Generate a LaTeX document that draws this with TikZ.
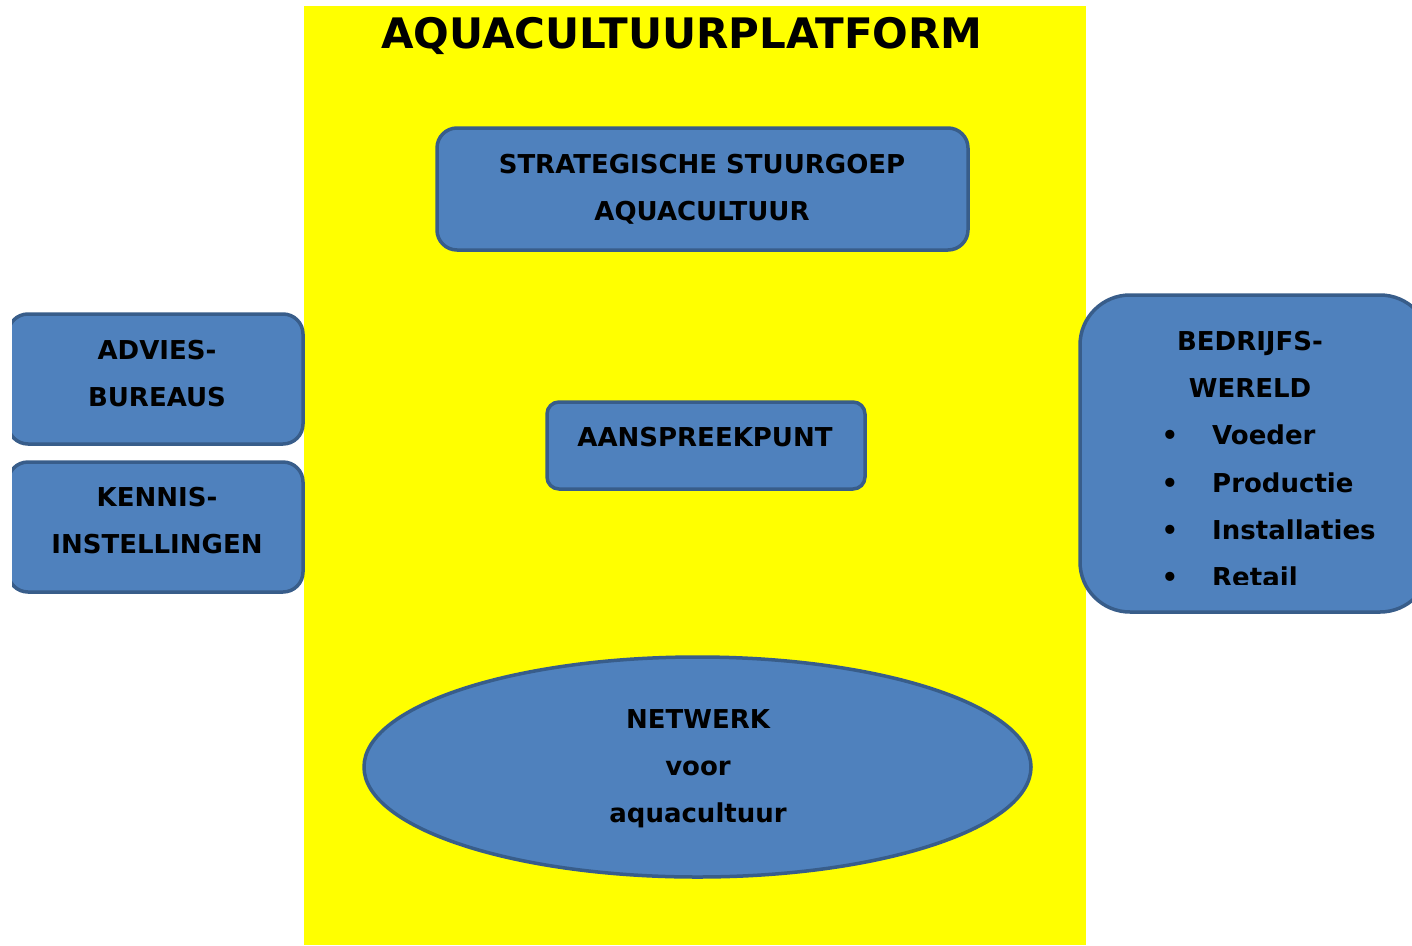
\documentclass[tikz,border=0pt]{standalone}
\usepackage{fontspec}
\setmainfont{DejaVu Sans}
\usetikzlibrary{shapes.geometric}
\definecolor{boxfill}{HTML}{4F81BD}
\definecolor{boxline}{HTML}{385D8A}
\definecolor{platyellow}{HTML}{FFFF00}
\tikzset{
  x=1pt, y=-1pt,
  blbox/.style={draw=boxline, fill=boxfill, line width=3.5pt, rounded corners=#1, inner sep=0pt},
  blbox/.default=20pt,
  txt/.style={anchor=base, inner sep=0pt, font=\bfseries\fontsize{26}{30}\selectfont},
  ltxt/.style={anchor=base west, inner sep=0pt, font=\bfseries\fontsize{26}{30}\selectfont},
}
\begin{document}
\begin{tikzpicture}
\useasboundingbox (0,0) rectangle (1412,945);
\fill[white] (0,0) rectangle (1412,945);
% platform
\node[fill=platyellow, inner sep=0pt, minimum width=782pt, minimum height=939pt] (plat) at (695,475.5) {};
\node[anchor=base, inner sep=0pt, font=\bfseries\fontsize{42}{50}\selectfont] (title) at (682,48) {AQUACULTUURPLATFORM};
% strategische stuurgroep
\node[blbox, minimum width=531pt, minimum height=122pt] (strat) at (702.5,189) {};
\node[txt] (strat1) at (702,173) {STRATEGISCHE STUURGOEP};
\node[txt] (strat2) at (702,220) {AQUACULTUUR};
% aanspreekpunt
\node[blbox=12pt, minimum width=318pt, minimum height=87pt] (asp) at (706,445.5) {};
\node[txt] (asp1) at (705,446) {AANSPREEKPUNT};
% netwerk
\node[ellipse, draw=boxline, fill=boxfill, line width=3.5pt, minimum width=667pt, minimum height=220pt, inner sep=0pt] (net) at (697.5,767) {};
\node[txt] (net1) at (698,728) {NETWERK};
\node[txt] (net2) at (698,775) {voor};
\node[txt] (net3) at (698,822) {aquacultuur};
% left boxes (clipped at left)
\begin{scope}
\clip (12,0) rectangle (1412,945);
\node[blbox, minimum width=295pt, minimum height=130pt] (advies) at (155.5,379) {};
\node[blbox, minimum width=295pt, minimum height=130pt] (kennis) at (155.5,527) {};
\end{scope}
\node[txt] (advies1) at (157,359) {ADVIES-};
\node[txt] (advies2) at (157,406) {BUREAUS};
\node[txt] (kennis1) at (157,506) {KENNIS-};
\node[txt] (kennis2) at (157,553) {INSTELLINGEN};
% right box
\node[blbox=50pt, minimum width=350pt, minimum height=317pt] (bedr) at (1255,453.5) {};
\node[txt] (bedr1) at (1250,350) {BEDRIJFS-};
\node[txt] (bedr2) at (1250,397) {WERELD};
\foreach \y/\t/\n in {444/Voeder/a, 492/Productie/b, 539/Installaties/c}{
  \node[txt] (bul\n) at (1170,\y) {•};
  \node[ltxt] (item\n) at (1212,\y) {\t};
}
\node[txt] (buld) at (1170,586) {•};
\begin{scope}
\clip (1100,560) rectangle (1412,584);
\node[ltxt] (itemd) at (1212,586) {Retail};
\end{scope}
\end{tikzpicture}
\end{document}
